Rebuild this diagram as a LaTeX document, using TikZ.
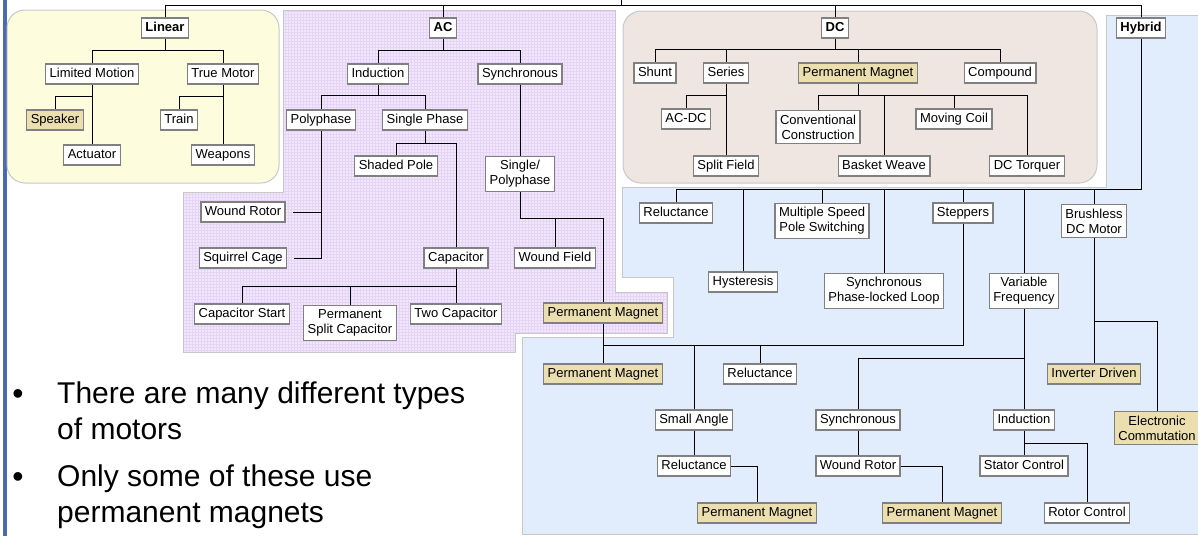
\documentclass[tikz,border=0pt]{standalone}
\usepackage{fontspec}
\setmainfont{Liberation Sans}
\usetikzlibrary{patterns}

\definecolor{linearfill}{RGB}{253,252,220}
\definecolor{dcfill}{RGB}{240,230,225}
\definecolor{acfill}{RGB}{243,231,252}
\definecolor{acgrid}{RGB}{230,212,248}
\definecolor{hybridfill}{RGB}{225,237,252}
\definecolor{regionedge}{RGB}{200,200,200}
\definecolor{boxedge}{RGB}{128,128,128}
\definecolor{pmtan}{RGB}{235,222,175}
\definecolor{slidebar}{RGB}{74,107,174}

\tikzset{
    box/.style={draw=boxedge, line width=1.4pt, fill=white, align=center,
        font=\fontsize{13}{15}\selectfont, inner xsep=4pt, inner ysep=4pt,
        text height=9.5pt, text depth=2.8pt},
    twoline/.style={box, text height=, text depth=},
    pmbox/.style={box, fill=pmtan},
    headbox/.style={box, font=\fontsize{13}{15}\selectfont\bfseries},
    link/.style={line width=1pt, black},
    region/.style={draw=regionedge, line width=1pt},
    bullettext/.style={font=\fontsize{30}{36}\selectfont, align=left, inner sep=0pt, anchor=north west},
    bulletdot/.style={font=\fontsize{32}{32}\selectfont, inner sep=0pt, anchor=base}
}

\begin{document}
\begin{tikzpicture}[x=1pt, y=-1pt]
        \useasboundingbox (0,0) rectangle (1198,536);
        \fill[slidebar] (2.5,0) rectangle (6.5,536);
        \draw[region, fill=linearfill, rounded corners=18pt] (7,10) rectangle (279,183);
        \draw[region, fill=dcfill, rounded corners=18pt] (623,11) rectangle (1097,183);
        \draw[region, preaction={fill=acfill}, pattern=grid, pattern color=acgrid]
            (283,10) -- (615,10) -- (615,292) -- (667,292) -- (667,333) -- (515,333)
            -- (515,352) -- (183,352) -- (183,192) -- (283,192) -- cycle;
        \draw[region, fill=hybridfill]
            (1106,15) -- (1198,15) -- (1198,534) -- (522,534) -- (522,337) -- (673,337)
            -- (673,277) -- (622,277) -- (622,187) -- (1106,187) -- cycle;

        \coordinate (root) at (621,0);
        \coordinate (bus) at (621,5);

        \node[headbox] (lin) at (165,28) {Linear};
        \node[box] (lm) at (92,74) {Limited Motion};
        \node[box] (tm) at (223,74) {True Motor};
        \node[pmbox] (spk) at (55,120) {Speaker};
        \node[box] (act) at (92,155) {Actuator};
        \node[box] (trn) at (179,120) {Train};
        \node[box] (wpn) at (223,155) {Weapons};

        \node[headbox] (ac) at (443,28) {AC};
        \node[box] (ind) at (378,74) {Induction};
        \node[box] (syn) at (520,74) {Synchronous};
        \node[box] (poly) at (321,120) {Polyphase};
        \node[box] (sph) at (425,120) {Single Phase};
        \node[box] (shp) at (396,166) {Shaded Pole};
        \node[twoline] (sp) at (520,174) {Single/\\Polyphase};
        \node[box] (wr) at (243,212) {Wound Rotor};
        \node[box] (sqc) at (243,258) {Squirrel Cage};
        \node[box] (cap) at (456,258) {Capacitor};
        \node[box] (wf) at (555,258) {Wound Field};
        \node[box] (cs) at (242,314) {Capacitor Start};
        \node[twoline] (psc) at (350,323) {Permanent\\Split Capacitor};
        \node[box] (tc) at (456,314) {Two Capacitor};
        \node[pmbox] (acpm) at (603,313) {Permanent Magnet};

        \node[headbox] (dc) at (835,28) {DC};
        \node[box] (shunt) at (655,73) {Shunt};
        \node[box] (ser) at (726,73) {Series};
        \node[pmbox] (dcpm) at (858,73) {Permanent Magnet};
        \node[box] (cpd) at (1000,73) {Compound};
        \node[box] (acdc) at (686,119) {AC-DC};
        \node[box] (spf) at (726,166) {Split Field};
        \node[twoline] (cc) at (818,127) {Conventional\\Construction};
        \node[box] (bw) at (884,166) {Basket Weave};
        \node[box] (mc) at (954,119) {Moving Coil};
        \node[box] (dct) at (1027,166) {DC Torquer};

        \node[headbox] (hyb) at (1141,28) {Hybrid};
        \node[box] (rel) at (676,213) {Reluctance};
        \node[box] (hys) at (743,282) {Hysteresis};
        \node[twoline] (msp) at (822,221) {Multiple Speed\\Pole Switching};
        \node[twoline] (spl) at (884,291) {Synchronous\\Phase-locked Loop};
        \node[box] (stp) at (963,213) {Steppers};
        \node[twoline] (vf) at (1024,291) {Variable\\Frequency};
        \node[twoline] (bdc) at (1094,221) {Brushless\\DC Motor};
        \node[pmbox] (pm1) at (603,374) {Permanent Magnet};
        \node[box] (rel2) at (760,374) {Reluctance};
        \node[box] (sa) at (694,420) {Small Angle};
        \node[box] (rel3) at (694,466) {Reluctance};
        \node[pmbox] (pm2) at (757,513) {Permanent Magnet};
        \node[box] (syn2) at (858,420) {Synchronous};
        \node[box] (wr2) at (858,466) {Wound Rotor};
        \node[pmbox] (pm3) at (942,513) {Permanent Magnet};
        \node[box] (ind2) at (1024,420) {Induction};
        \node[box] (stc) at (1024,466) {Stator Control};
        \node[box] (rc) at (1087,513) {Rotor Control};
        \node[pmbox] (inv) at (1094,374) {Inverter Driven};
        \node[twoline, fill=pmtan] (ec) at (1157,428) {Electronic\\Commutation};

        \node[bulletdot] (dot1) at (18,404) {\textbullet};
        \node[bullettext] (txt1) at (57,382) {There are many different types\\of motors};
        \node[bulletdot] (dot2) at (18,487) {\textbullet};
        \node[bullettext] (txt2) at (57,465) {Only some of these use\\permanent magnets};

        \draw[link]
            (root) -- (bus);
        \draw[link]
            (bus) -| (lin.north);
        \draw[link]
            (bus) -| (ac.north);
        \draw[link]
            (bus) -| (dc.north);
        \draw[link]
            (bus) -| (hyb.north);

        \draw[link]
            (lin.south) -- ++(0,12) -| (lm.north);
        \draw[link]
            (lin.south) -- ++(0,12) -| (tm.north);
        \draw[link]
            (lm.south) -- ++(0,12) -| (spk.north);
        \draw[link]
            (lm.south) -- (act.north);
        \draw[link]
            (tm.south) -- ++(0,12) -| (trn.north);
        \draw[link]
            (tm.south) -- (wpn.north);

        \draw[link]
            (ac.south) -- ++(0,12) -| (ind.north);
        \draw[link]
            (ac.south) -- ++(0,12) -| (syn.north);
        \draw[link]
            (ind.south) -- ++(0,11) -| (poly.north);
        \draw[link]
            (ind.south) -- ++(0,11) -| (sph.north);
        \draw[link]
            (poly.south) |- ([xshift=7pt]sqc.east);
        \draw[link]
            ([xshift=7pt]wr.east) -- (wr.east -| poly.south);
        \draw[link]
            (sph.south) -- ++(0,13) -| (shp.north);
        \draw[link]
            (sph.south) -- ++(0,13) -| (cap.north);
        \draw[link]
            (cap.south) -- ++(0,18) -| (cs.north);
        \draw[link]
            (cap.south) -- ++(0,18) -| (psc.north);
        \draw[link]
            (cap.south) -- (tc.north);
        \draw[link]
            (syn.south) -- (sp.north);
        \draw[link]
            (sp.south) -- ++(0,26) -| (wf.north);
        \draw[link]
            (sp.south) -- ++(0,26) -| (acpm.north);
        \draw[link]
            (acpm.south) -- (pm1.north);

        \draw[link]
            (dc.south) -- ++(0,11) -| (shunt.north);
        \draw[link]
            (dc.south) -- ++(0,11) -| (ser.north);
        \draw[link]
            (dc.south) -- ++(0,11) -| (dcpm.north);
        \draw[link]
            (dc.south) -- ++(0,11) -| (cpd.north);
        \draw[link]
            (ser.south) -- ++(0,12) -| (acdc.north);
        \draw[link]
            (ser.south) -- (spf.north);
        \draw[link]
            (dcpm.south) -- ++(0,12) -| (cc.north);
        \draw[link]
            (dcpm.south) -- ++(0,12) -| (bw.north);
        \draw[link]
            (dcpm.south) -- ++(0,12) -| (mc.north);
        \draw[link]
            (dcpm.south) -- ++(0,12) -| (dct.north);

        \draw[link]
            (hyb.south) -- ++(0,151) -| (rel.north);
        \draw[link]
            (hyb.south) -- ++(0,151) -| (hys.north);
        \draw[link]
            (hyb.south) -- ++(0,151) -| (msp.north);
        \draw[link]
            (hyb.south) -- ++(0,151) -| (spl.north);
        \draw[link]
            (hyb.south) -- ++(0,151) -| (stp.north);
        \draw[link]
            (hyb.south) -- ++(0,151) -| (vf.north);
        \draw[link]
            (hyb.south) -- ++(0,151) -| (bdc.north);
        \draw[link]
            (stp.south) -- ++(0,122) -| (pm1.north);
        \draw[link]
            (stp.south) -- ++(0,122) -| (sa.north);
        \draw[link]
            (stp.south) -- ++(0,122) -| (rel2.north);
        \draw[link]
            (sa.south) -- (rel3.north);
        \draw[link]
            (rel3.east) -| (pm2.north);
        \draw[link]
            (vf.south) -- ++(0,49) -| (syn2.north);
        \draw[link]
            (vf.south) -- (ind2.north);
        \draw[link]
            (syn2.south) -- (wr2.north);
        \draw[link]
            (wr2.east) -| (pm3.north);
        \draw[link]
            (ind2.south) -- (stc.north);
        \draw[link]
            (ind2.south) -- ++(0,13) -| (rc.north);
        \draw[link]
            (bdc.south) -- (inv.north);
        \draw[link]
            (bdc.south) -- ++(0,84) -| (ec.north);
\end{tikzpicture}
\end{document}
